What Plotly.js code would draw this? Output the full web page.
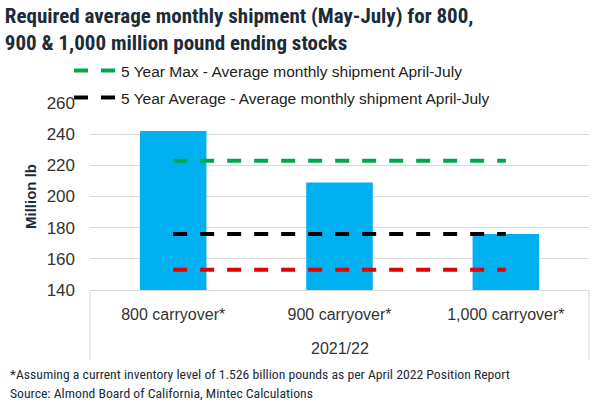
<!DOCTYPE html>
<html>
<head>
<meta charset="utf-8">
<script src="https://cdn.plot.ly/plotly-3.0.1.min.js"></script>
<style>html,body{margin:0;padding:0;background:#fff;}#chart{width:600px;height:415px;}</style>
</head>
<body>
<div id="chart"></div>
<script>
// ---- data ----
const categories = ["800 carryover*", "900 carryover*", "1,000 carryover*"];
const seasonLabel = "2021/22";
const requiredShipment = [242, 209, 176];
const fiveYearMax = 223;
const fiveYearAvg = 176;
const lowerLine = 153;
const yTicks = [140, 160, 180, 200, 220, 240, 260];

const ends = [0, categories.length - 1];
const lineX = ends.map(i => categories[i]);

const NARROW = "Liberation Sans Narrow, Roboto Condensed, Roboto, sans-serif";
const REG = "Liberation Sans, Arial, sans-serif";
const dashLine = (color, val, name, legend, show) => ({
  type: "scatter", mode: "lines", name: name,
  x: lineX, y: ends.map(() => val),
  line: {color: color, width: 4, dash: "14px,13px"},
  showlegend: show, legend: legend, hoverinfo: "skip"
});

const traces = [
  {type: "bar", x: categories, y: requiredShipment, width: 0.4,
   marker: {color: "#00B0F0"}, showlegend: false, name: "Required"},
  dashLine("#00A650", fiveYearMax, "5 Year Max - Average monthly shipment April-July", "legend", true),
  dashLine("#000000", fiveYearAvg, "5 Year Average - Average monthly shipment April-July", "legend2", true),
  dashLine("#E30000", lowerLine, "lower", "legend", false)
];

const legendBase = {xref: "paper", yref: "paper", x: -21/499, xanchor: "left",
  yanchor: "middle", bgcolor: "rgba(0,0,0,0)", borderwidth: 0, itemwidth: 42,
  font: {family: REG, size: 15.5, color: "#222"}};

const frameBottom = -(360 - 290) / 187;

const layout = {
  width: 600, height: 415,
  margin: {l: 90, r: 11, t: 103, b: 125, autoexpand: false},
  paper_bgcolor: "#fff", plot_bgcolor: "#fff",
  font: {family: REG, color: "#333"},
  title: {text: "Required average monthly shipment (May-July) for 800,<br>900 & 1,000 million pound ending stocks",
          x: 0.008, xanchor: "left", y: 1 - 22.5/415, yanchor: "middle",
          font: {family: NARROW, size: 21, color: "#1C2B39", weight: "bold"}},
  xaxis: {type: "category", showgrid: false, zeroline: false, automargin: false,
          showline: true, linecolor: "#d9d9d9", linewidth: 1, tickangle: 0,
          ticklabelstandoff: 10,
          tickfont: {family: REG, size: 16, color: "#333"}},
  yaxis: {range: [140, 260], tickvals: yTicks, ticktext: yTicks.map(String), automargin: false,
          showgrid: true, gridcolor: "#d9d9d9", gridwidth: 1, zeroline: false,
          showline: false, ticklabelstandoff: 14,
          tickfont: {family: REG, size: 17, color: "#333"},
          title: {text: "Million lb", standoff: 6,
                  font: {family: REG, size: 15, color: "#1C2B39", weight: "bold"}}},
  legend: Object.assign({}, legendBase, {y: 1 + (103 - 71)/187}),
  legend2: Object.assign({}, legendBase, {y: 1 + (103 - 98)/187}),
  shapes: [
    {type: "line", xref: "paper", yref: "paper", x0: 0, x1: 0, y0: 0, y1: frameBottom,
     line: {color: "#d9d9d9", width: 1}},
    {type: "line", xref: "paper", yref: "paper", x0: 1, x1: 1, y0: 0, y1: frameBottom,
     line: {color: "#d9d9d9", width: 1}}
  ],
  annotations: [
    {xref: "paper", yref: "paper", x: 0.5, y: -(348-290)/187, xanchor: "center", yanchor: "middle",
     showarrow: false, text: seasonLabel, font: {family: REG, size: 16, color: "#333"}},
    {xref: "paper", yref: "paper", x: -82/499, y: -(374-290)/187, xanchor: "left", yanchor: "middle",
     showarrow: false, align: "left",
     text: "*Assuming a current inventory level of 1.526 billion pounds as per April 2022 Position Report",
     font: {family: NARROW, size: 13.7, color: "#1C2B39"}},
    {xref: "paper", yref: "paper", x: -82/499, y: -(393-290)/187, xanchor: "left", yanchor: "middle",
     showarrow: false, align: "left",
     text: "Source: Almond Board of California, Mintec Calculations",
     font: {family: NARROW, size: 13.7, color: "#1C2B39"}}
  ]
};

Plotly.newPlot("chart", traces, layout, {displayModeBar: false, staticPlot: true});
</script>
</body>
</html>
